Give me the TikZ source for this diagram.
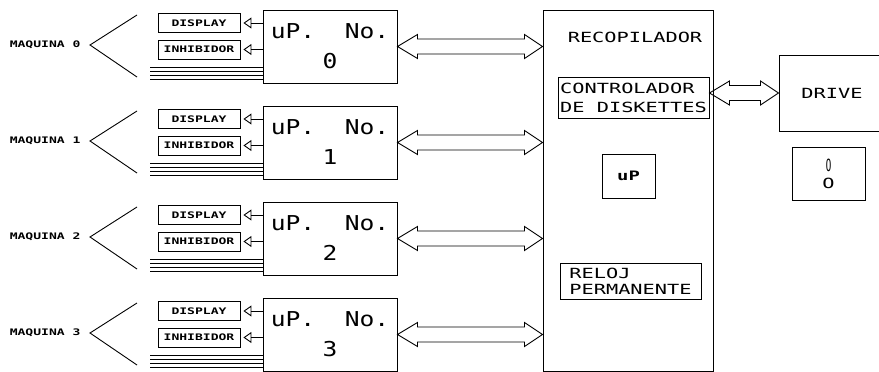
\documentclass[tikz,border=0pt]{standalone}
\usepackage{fontspec}
\usepackage{graphicx}
\usepackage{tikz}
\usetikzlibrary{arrows.meta,positioning,calc}
\newfontfamily\plotfont[FakeStretch=1.45]{DejaVu Sans Mono}
\newfontfamily\plotbig[FakeStretch=1.2]{DejaVu Sans Mono}
\tikzset{
  box/.style    = {draw, line width=1pt, rectangle, inner sep=2pt},
  tagbox/.style = {draw, line width=0.9pt, rectangle, minimum width=82pt,
                   minimum height=19pt, inner sep=0pt,
                   font=\plotfont\bfseries\fontsize{9}{9}\selectfont},
  small/.style  = {font=\plotfont\bfseries\fontsize{9}{9}\selectfont},
  lbl/.style    = {font=\plotfont\fontsize{14}{19}\selectfont},
  sigtip/.style = {line width=0.9pt, -{Triangle[open,length=8pt,width=11pt]},
                   shorten >=3pt},
  wire/.style   = {line width=0.6pt},
  bus/.style    = {line width=0.9pt, to path={let \p1=(\tikztostart), \p2=(\tikztotarget) in
                   (\p1) -- (\x1+20pt,\y1+12pt) -- (\x1+20pt,\y1+7.5pt)
                   -- (\x2-18pt,\y1+7.5pt) -- (\x2-18pt,\y1+12pt) -- (\p2)
                   -- (\x2-18pt,\y1-12pt) -- (\x2-18pt,\y1-7.5pt)
                   -- (\x1+20pt,\y1-7.5pt) -- (\x1+20pt,\y1-12pt) -- cycle}},
}

\begin{document}
\begin{tikzpicture}[x=1pt, y=-1pt]
\clip (0,0) rectangle (879,372);
% ---- recopilador ----
\node[box, minimum width=170pt, minimum height=361pt] (rec) at (628,190.5) {};
\node[lbl] (rectit) at (635,37) {RECOPILADOR};
\node[box, lbl, align=left, minimum width=151pt, minimum height=41pt] (ctl) at (633.5,97.5)
     {CONTROLADOR\\DE DISKETTES};
\node[box, minimum width=53pt, minimum height=44pt,
      font=\plotfont\bfseries\fontsize{13}{13}\selectfont] (upc) at (628.5,176) {uP};
\node[box, align=left, minimum width=141pt, minimum height=36pt,
      font=\plotfont\fontsize{14}{16}\selectfont] (rlj) at (630.5,281) {RELOJ\\PERMANENTE};
% ---- drive ----
\node[box, lbl, minimum width=106pt, minimum height=76pt] (drv) at (832,93) {DRIVE};
\node[box, align=center, minimum width=73pt, minimum height=53pt,
      font=\plotfont\fontsize{14}{17}\selectfont] (sw) at (828.5,173.5)
     {\scalebox{0.45}[1.2]{O}\\O};
\draw[bus] (ctl.east |- drv.west) to (drv.west);
% ---- the four machines ----
\foreach \i in {0,...,3}{
  \pgfmathsetmacro{\yy}{46.5+96*\i}
  \node[box, minimum width=134pt, minimum height=73pt, align=center,
        font=\plotbig\fontsize{20.5}{30}\selectfont] (up\i) at (330,\yy) {uP.~~No.\\\i};
  \node[tagbox] (disp\i) at (199,\yy-23.5) {DISPLAY};
  \node[tagbox] (inh\i) at (199,\yy+3) {INHIBIDOR};
  \draw[sigtip] (up\i.west |- disp\i.east) -- (disp\i.east);
  \draw[sigtip] (up\i.west |- inh\i.east) -- (inh\i.east);
  \foreach \d in {20.5,24.5,28.5,32.5}
    \draw[wire] ([yshift=-\d pt]up\i.west) -- +(-113,0);
  \coordinate (fork\i) at (90,\yy-1.5);
  \draw[line width=0.9pt] ([shift={(47,-30)}]fork\i) -- (fork\i) -- ([shift={(47,32)}]fork\i);
  \node[small, left=6pt of fork\i] (maq\i) {MAQUINA \i};
  \draw[bus] (up\i.east) to (up\i.east -| rec.west);
}
\end{tikzpicture}
\end{document}
